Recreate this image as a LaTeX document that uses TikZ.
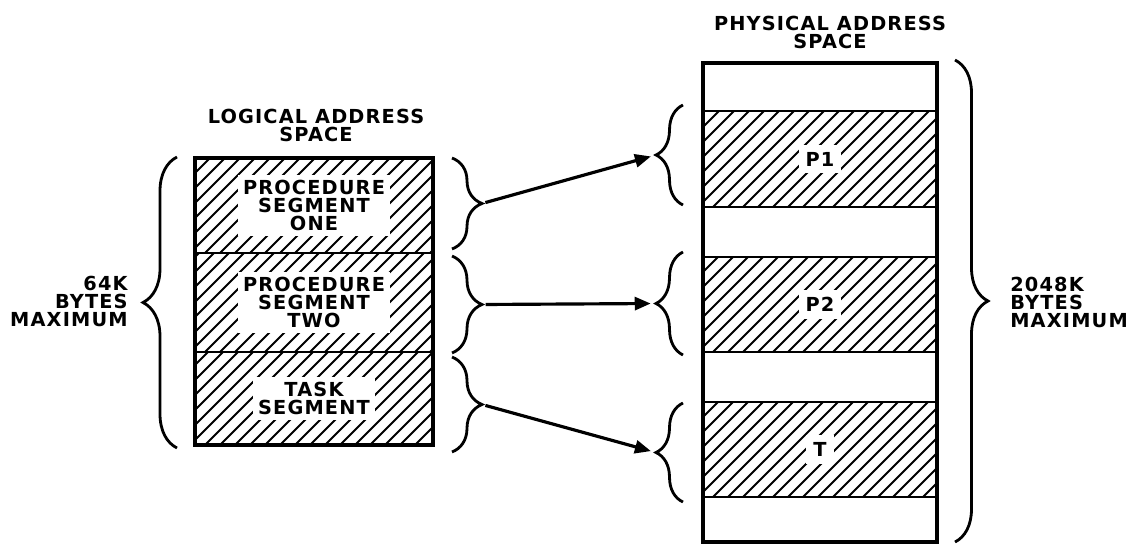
\documentclass[tikz,border=0pt]{standalone}
\usepackage{fontspec}
\newfontfamily\addrfont[LetterSpace=6]{DejaVu Sans}
\newcommand\addrtext{\addrfont\bfseries\fontsize{11}{10.24}\selectfont}
\usetikzlibrary{arrows.meta, positioning, calc, decorations.pathreplacing}

\begin{document}
\begin{tikzpicture}[
    seg/.style={rectangle, draw, line width=1.3pt, inner sep=0pt, outer sep=0pt},
    hatched/.style={path picture={
        \foreach \k in {0,...,25}
            \draw[line width=1.15pt] ($(path picture bounding box.south west)+(\k*0.3-2.2,0)$) -- ++(2.4,2.4);}},
    box/.style={rectangle, draw, line width=2.2pt, inner sep=0pt},
    lbl/.style={fill=white, inner sep=3pt, align=center, font=\addrtext},
    title/.style={align=center, inner sep=0pt, font=\addrtext},
    brc/.style={decorate, decoration={brace, amplitude=#1}, line width=1.6pt},
    arr/.style={-{Triangle[length=3.2mm, width=2.6mm]}, line width=1.8pt, shorten <=2pt, shorten >=3pt}
]
\useasboundingbox (0,0) rectangle (22.76,10.9);

\node[seg, hatched, minimum width=4.76cm, minimum height=1.90cm] (seg1) at (6.28,6.79) {};
\node[seg, hatched, minimum width=4.76cm, minimum height=1.98cm, below=0pt of seg1] (seg2) {};
\node[seg, hatched, minimum width=4.76cm, minimum height=1.86cm, below=0pt of seg2] (seg3) {};
\node[box, minimum width=4.76cm, minimum height=5.74cm] (logical) at (6.28,4.87) {};
\node[lbl] (seg1txt) at (seg1) {PROCEDURE\\SEGMENT\\ONE};
\node[lbl] (seg2txt) at (seg2) {PROCEDURE\\SEGMENT\\TWO};
\node[lbl] (seg3txt) at (seg3) {TASK\\SEGMENT};
\node[title] (logtitle) at (6.32,8.39) {LOGICAL ADDRESS\\SPACE};

\node[seg, hatched, minimum width=4.68cm, minimum height=1.92cm] (p1) at (16.4,7.72) {};
\node[seg, hatched, minimum width=4.68cm, minimum height=1.90cm] (p2) at (16.4,4.81) {};
\node[seg, hatched, minimum width=4.68cm, minimum height=1.90cm] (t) at (16.4,1.91) {};
\node[box, minimum width=4.68cm, minimum height=9.58cm] (physical) at (16.4,4.85) {};
\node[lbl, inner sep=4pt] (p1txt) at (p1) {P1};
\node[lbl, inner sep=4pt] (p2txt) at (p2) {P2};
\node[lbl, inner sep=4pt] (ttxt) at (t) {T};
\node[title] (phystitle) at (16.6,10.25) {PHYSICAL ADDRESS\\SPACE};

\node[title, align=right, anchor=east] (logsize) at (2.56,4.87) {64K\\BYTES\\MAXIMUM};
\node[title, align=left, anchor=west] (physsize) at (20.2,4.85) {2048K\\BYTES\\MAXIMUM};

\draw[brc=0.68cm] (3.54,1.94) -- (3.54,7.76);
\draw[brc=0.66cm] (19.1,9.70) -- (19.1,0.06);

\draw[brc=0.6cm] (9.04,7.74) -- (9.04,5.92) coordinate[midway, xshift=0.6cm] (lb1);
\draw[brc=0.6cm] (9.04,5.78) -- (9.04,3.84) coordinate[midway, xshift=0.6cm] (lb2);
\draw[brc=0.6cm] (9.04,3.76) -- (9.04,1.86) coordinate[midway, xshift=0.6cm] (lb3);

\draw[brc=0.54cm] (13.66,6.80) -- (13.66,8.80) coordinate[midway, xshift=-0.54cm] (pb1);
\draw[brc=0.54cm] (13.66,3.80) -- (13.66,5.86) coordinate[midway, xshift=-0.54cm] (pb2);
\draw[brc=0.54cm] (13.66,0.86) -- (13.66,2.84) coordinate[midway, xshift=-0.54cm] (pb3);

\draw[arr] (lb1) -- (pb1);
\draw[arr] (lb2) -- (pb2);
\draw[arr] (lb3) -- (pb3);
\end{tikzpicture}
\end{document}
